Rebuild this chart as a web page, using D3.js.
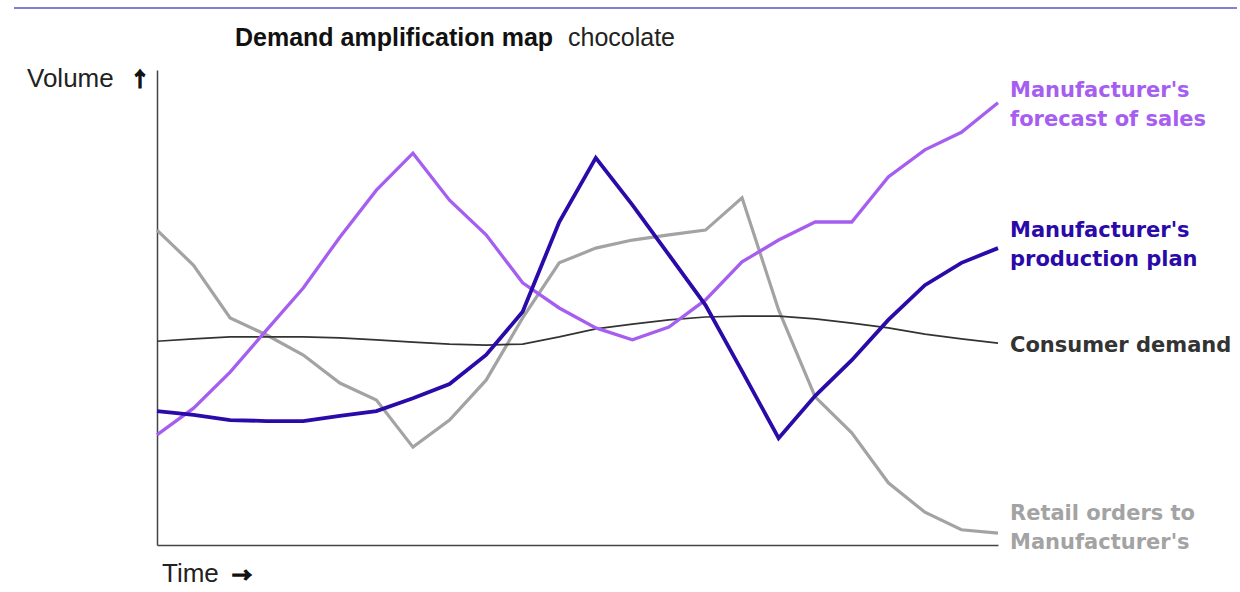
<!DOCTYPE html>
<html><head><meta charset="utf-8">
<script src="https://cdn.jsdelivr.net/npm/d3@7"></script>
<style>html,body{margin:0;padding:0;background:#fff;}svg{display:block;}</style>
</head><body><svg id="c" width="1240" height="592"></svg>
<script>
// Time periods (equal steps)
const periods = d3.range(24);
// Volume index values (0 = axis baseline)
const forecastSales = [23.2,28.8,36.4,45.3,54.1,64.8,74.7,82.5,72.6,65.3,55.2,49.9,45.7,43.2,45.9,51.6,59.6,64.2,68.0,68.0,77.5,83.2,86.9,93.1];
const productionPlan = [28.2,27.4,26.3,26.1,26.1,27.2,28.2,30.9,33.9,40.0,49.1,68.0,81.5,71.6,61.1,50.5,36.6,22.5,31.4,38.9,47.4,54.7,59.4,62.5];
const consumerDemand = [42.9,43.4,43.8,43.8,43.8,43.6,43.2,42.7,42.3,42.1,42.3,43.8,45.5,46.5,47.4,48.0,48.2,48.2,47.6,46.7,45.7,44.4,43.4,42.5];
const retailOrders = [66.3,58.9,47.8,44.2,40.0,34.1,30.5,20.6,26.3,34.7,47.8,59.4,62.5,64.2,65.3,66.3,73.1,49.5,31.2,23.6,13.1,6.9,3.2,2.5];
const seriesNames = ["Retail orders to Manufacturer's","Consumer demand","Manufacturer's forecast of sales","Manufacturer's production plan"];
const labelLines = [["Retail orders to","Manufacturer's"],["Consumer demand"],["Manufacturer's","forecast of sales"],["Manufacturer's","production plan"]];
const titleBold = "Demand amplification map";
const titleLight = "chocolate";
const yAxisLabel = ["Volume", "\u2191"];
const xAxisLabel = ["Time", "\u2192"];

const svg = d3.select("#c");
const x = d3.scaleLinear().domain([0, 23]).range([157, 998]);
const y = d3.scaleLinear().domain([0, 100]).range([545, 70]);

const series = [
  {name: seriesNames[0], values: retailOrders, color: "#a3a3a3", width: 3.2, lines: labelLines[0], ly: 520},
  {name: seriesNames[1], values: consumerDemand, color: "#333333", width: 1.7, lines: labelLines[1], ly: 352},
  {name: seriesNames[2], values: forecastSales, color: "#a65ef0", width: 3.3, lines: labelLines[2], ly: 97},
  {name: seriesNames[3], values: productionPlan, color: "#2a0aa8", width: 3.8, lines: labelLines[3], ly: 237}
];

// top rule
svg.append("line").attr("x1", 14).attr("x2", 1237).attr("y1", 8).attr("y2", 8)
  .attr("stroke", "#5a55c8").attr("stroke-width", 1.5);

// title
const t = svg.append("text").attr("x", 235).attr("y", 46)
  .attr("font-family", "'Liberation Sans',Arial,sans-serif").attr("font-size", 25).attr("fill", "#111");
t.append("tspan").attr("font-weight", "bold").text(titleBold);
t.append("tspan").attr("x", 568).attr("fill", "#222").text(titleLight);

// axes (no ticks)
const xAxis = d3.axisBottom(x).tickValues([]).tickSizeOuter(0);
const yAxis = d3.axisLeft(y).tickValues([]).tickSizeOuter(0);
svg.append("g").attr("transform", "translate(0,545)").call(xAxis)
  .select(".domain").attr("stroke", "#444").attr("stroke-width", 1.5);
svg.append("g").attr("transform", "translate(157,0)").call(yAxis)
  .select(".domain").attr("stroke", "#444").attr("stroke-width", 1.5);

const arrowFont = "'Noto Sans CJK SC','Noto Sans CJK JP',sans-serif";
const yl = svg.append("text").attr("x", 27).attr("y", 87).attr("font-family", "'Liberation Sans',Arial,sans-serif")
  .attr("font-size", 26).attr("fill", "#222");
yl.append("tspan").text(yAxisLabel[0]);
yl.append("tspan").attr("x", 130).attr("y", 87).attr("font-family", arrowFont).attr("font-size", 20).attr("font-weight", "bold")
  .attr("fill", "#111").attr("stroke", "#111").attr("stroke-width", 1.2).text(yAxisLabel[1]);
const xl = svg.append("text").attr("x", 162).attr("y", 582).attr("font-family", "'Liberation Sans',Arial,sans-serif")
  .attr("font-size", 26).attr("fill", "#222");
xl.append("tspan").text(xAxisLabel[0]);
xl.append("tspan").attr("x", 232).attr("y", 583).attr("font-family", arrowFont).attr("font-size", 20).attr("font-weight", "bold")
  .attr("fill", "#111").attr("stroke", "#111").attr("stroke-width", 1.2).text(xAxisLabel[1]);

const line = d3.line().x((d, i) => x(periods[i])).y(d => y(d));
svg.append("g").selectAll("path").data(series).join("path")
  .attr("d", d => line(d.values)).attr("fill", "none")
  .attr("stroke", d => d.color).attr("stroke-width", d => d.width)
  .attr("stroke-linejoin", "miter").attr("stroke-linecap", "butt");

// end labels
const lg = svg.append("g").selectAll("text").data(series).join("text")
  .attr("x", 1010).attr("y", d => d.ly)
  .attr("font-family", "'DejaVu Sans',Verdana,sans-serif").attr("font-weight", "bold")
  .attr("font-size", 21).attr("fill", d => d.color);
lg.selectAll("tspan").data(d => d.lines).join("tspan")
  .attr("x", 1010).attr("dy", (d, i) => i === 0 ? 0 : 28.5).text(d => d);
</script></body></html>
